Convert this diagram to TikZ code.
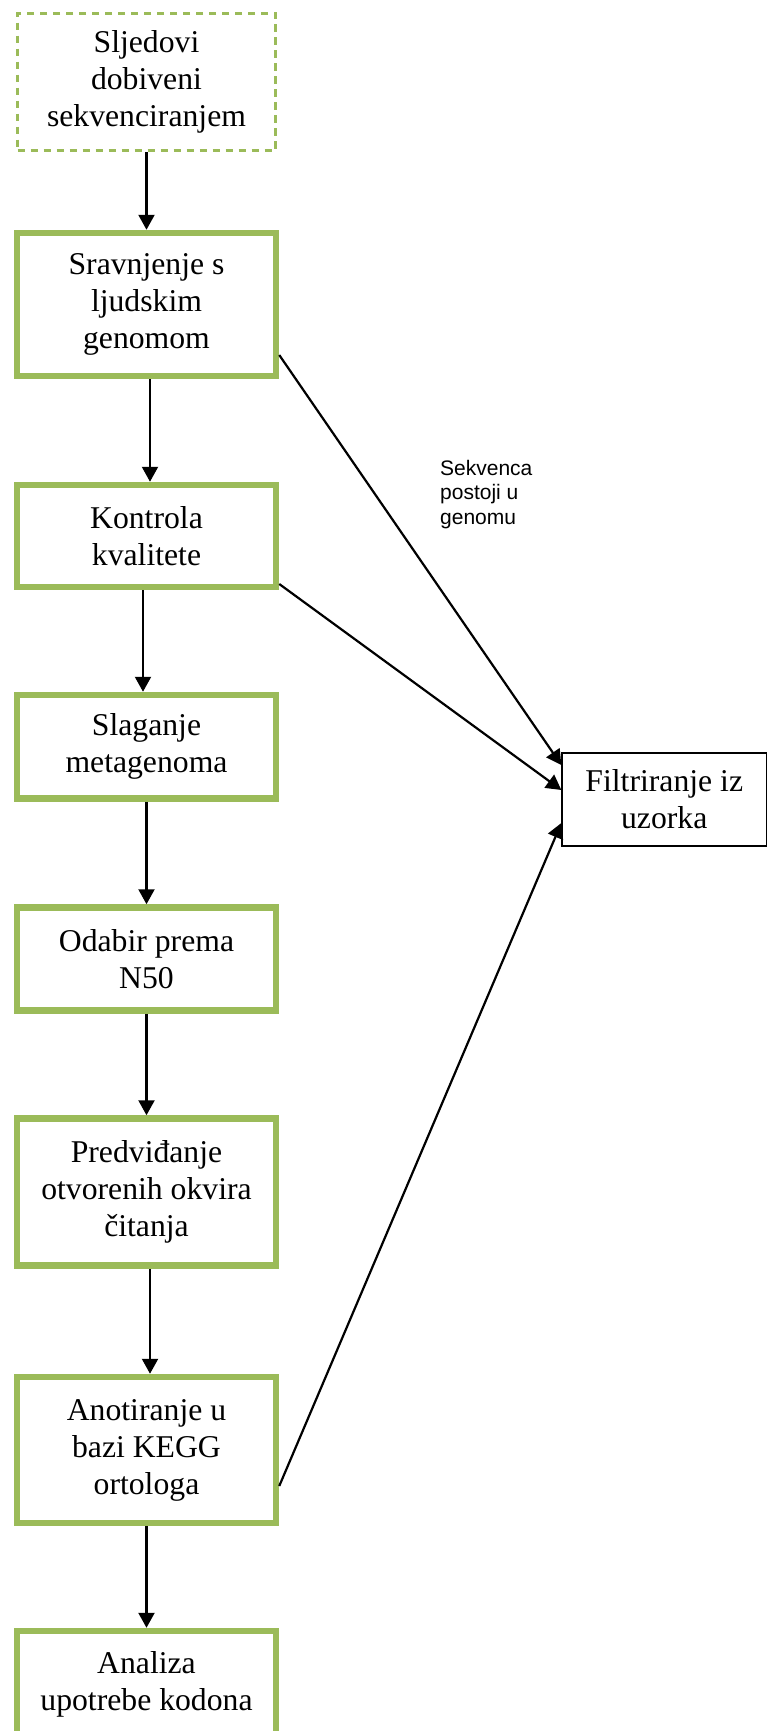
\documentclass[tikz,border=0pt]{standalone}
\usepackage{fontspec}
\setmainfont{Liberation Serif}
\setsansfont{Liberation Sans}
\usetikzlibrary{arrows.meta}
\definecolor{stepgreen}{RGB}{155,187,89}
\begin{document}
\begin{tikzpicture}[x=1pt, y=-1pt, font=\fontsize{31.7}{37}\selectfont]
    \tikzstyle{step_style} = [draw=stepgreen, line width=6.5, rectangle, minimum width=259, align=center, inner sep=0]
    \tikzstyle{input_style} = [draw=stepgreen, line width=2.7, dash pattern=on 7.5pt off 5.5pt, rectangle, minimum width=258, align=center, inner sep=0]
    \tikzstyle{filter_style} = [draw=black, line width=1.3, rectangle, minimum width=204.5, align=center, inner sep=0]
    \tikzstyle{arrow_style} = [-{Triangle[width=16pt,length=15pt]}, black, line width=2.2]

    \useasboundingbox (0,0) rectangle (768,1731);

    \node[input_style, minimum height=137.5] (n1) at (146.5,82) {Sljedovi\\dobiveni\\sekvenciranjem};
    \node[step_style, minimum height=143] (n2) at (146.5,304.5) {Sravnjenje s\\ljudskim\\genomom};
    \node[step_style, minimum height=102] (n3) at (146.5,536) {Kontrola\\kvalitete};
    \node[step_style, minimum height=103.5] (n4) at (146.5,746.75) {Slaganje\\metagenoma};
    \node[step_style, minimum height=103] (n5) at (146.5,959) {Odabir prema\\N50};
    \node[step_style, minimum height=147] (n6) at (146.5,1192) {Predviđanje\\otvorenih okvira\\čitanja};
    \node[step_style, minimum height=146] (n7) at (146.5,1450) {Anotiranje u\\bazi KEGG\\ortologa};
    \node[step_style, minimum height=106] (n8) at (146.5,1684) {Analiza\\upotrebe kodona};

    \node[filter_style, minimum height=93] (f) at (664.25,799.5) {Filtriranje iz\\uzorka};
    \node[anchor=north west, inner sep=0, align=left, font=\sffamily\fontsize{21}{24.5}\selectfont] (lbl) at (440,460) {Sekvenca\\postoji u\\genomu};

    \draw[arrow_style] (n1) -- (n2);
    \draw[arrow_style] ([xshift=3.5pt]n2.south) -- ([xshift=3.5pt]n3.north);
    \draw[arrow_style] ([xshift=-3.5pt]n3.south) -- ([xshift=-3.5pt]n4.north);
    \draw[arrow_style] (n4) -- (n5);
    \draw[arrow_style] (n5) -- (n6);
    \draw[arrow_style] ([xshift=3.5pt]n6.south) -- ([xshift=3.5pt]n7.north);
    \draw[arrow_style] (n7) -- (n8);

    \draw[arrow_style] ([yshift=-50.5pt]n2.east) -- ([yshift=34.5pt]f.west);
    \draw[arrow_style] ([yshift=-48pt]n3.east) -- ([yshift=9.5pt]f.west);
    \draw[arrow_style] ([yshift=-36pt]n7.east) -- ([yshift=-23.5pt]f.west);
\end{tikzpicture}
\end{document}
